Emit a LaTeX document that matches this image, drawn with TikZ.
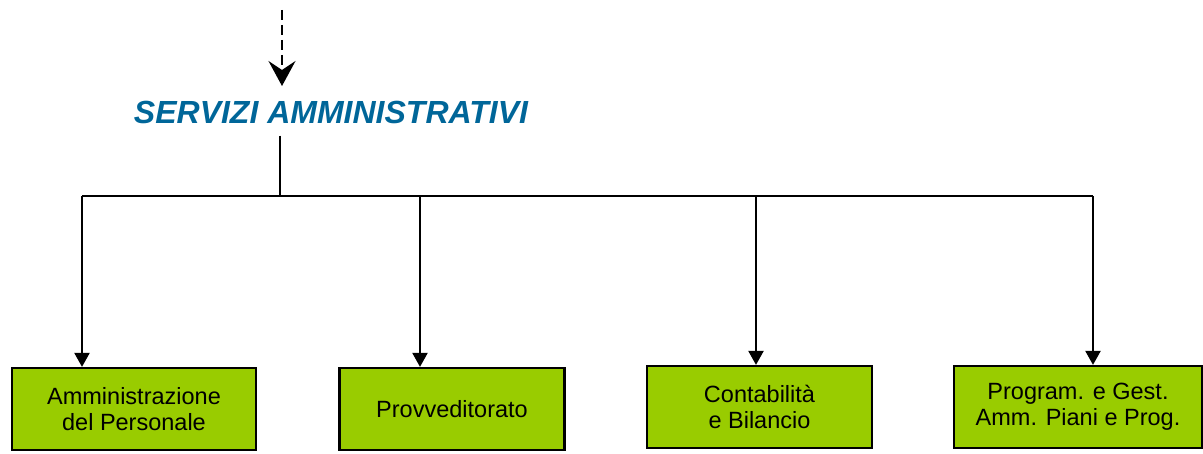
\documentclass[tikz,border=0pt]{standalone}
\usepackage{fontspec}
\setmainfont{Liberation Sans}
\usepackage{tikz}
\usetikzlibrary{arrows.meta}

\definecolor{titleblue}{RGB}{0,102,153}
\definecolor{boxgreen}{RGB}{153,204,0}

\tikzset{
  officebox/.style={draw=black, line width=2.2pt, fill=boxgreen, align=center,
    font=\fontsize{23.5}{26}\selectfont, inner sep=0pt},
  link/.style={line width=2.2pt},
  linkarrow/.style={line width=2.2pt, -{Triangle[width=15pt,length=14pt]}}
}

\begin{document}
\begin{tikzpicture}[x=1pt,y=-1pt]
			\useasboundingbox (0,0) rectangle (1203,454);

			\coordinate (top) at (282,10);
			\node [font=\fontsize{32}{36}\selectfont\bfseries\itshape, text=titleblue, inner sep=0pt](title) at (331,112) {SERVIZI AMMINISTRATIVI};
			\draw [line width=2.6pt, dash pattern=on 10pt off 5pt, -{Stealth[width=27pt,length=25pt,inset=9pt]}](top) -- (282,86);

			\node [officebox, minimum width=244pt, minimum height=82pt](pers) at (134,409) {Amministrazione\\del Personale};
			\node [officebox, minimum width=225pt, minimum height=82pt](prov) at (452,409) {Provveditorato};
			\node [officebox, minimum width=225pt, minimum height=82pt](cont) at (759.5,407) {Contabilità\\e Bilancio};
			\node [officebox, minimum width=248pt, minimum height=82pt](prog) at (1078,407) {Program. e Gest.\\Amm. Piani e Prog.};

			\coordinate (hub) at (280,196);
			\coordinate (c1) at (82,196);
			\coordinate (c2) at (420,196);
			\coordinate (c3) at (756,196);
			\coordinate (c4) at (1093,196);

			\draw [link](title.south -| hub) ++(0,12) -- (hub);
			\draw [link](c1) -- (c4);

			\draw [linkarrow](c1) -- (c1 |- pers.north);
			\draw [linkarrow](c2) -- (c2 |- prov.north);
			\draw [linkarrow](c3) -- (c3 |- cont.north);
			\draw [linkarrow](c4) -- (c4 |- prog.north);

		\end{tikzpicture}
\end{document}
